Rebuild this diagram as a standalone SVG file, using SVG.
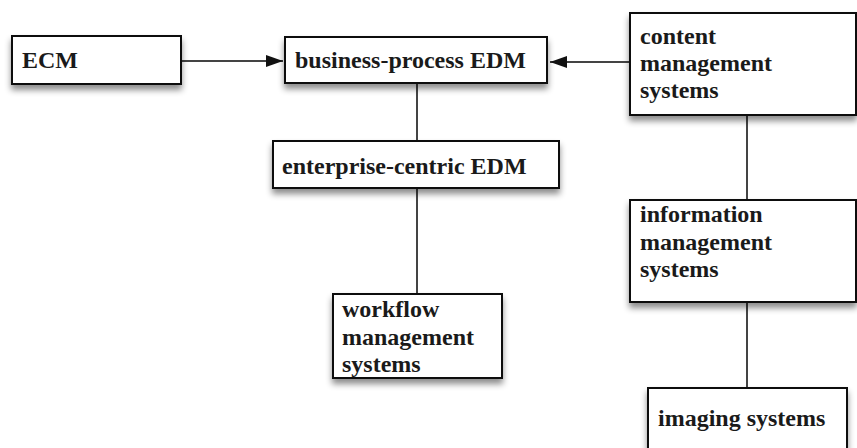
<svg xmlns="http://www.w3.org/2000/svg" width="857" height="448" viewBox="0 0 857 448">
<style>
.box{fill:#fff;stroke:#111;stroke-width:2;filter:url(#sh)}
.t{font-family:"Liberation Serif","Times New Roman",serif;font-weight:bold;font-size:24px;fill:#1a1a1a}
.c{stroke:#444;stroke-width:2;fill:none}
</style>
<defs>
<filter id="sh" x="-10%" y="-20%" width="120%" height="150%">
<feDropShadow dx="0" dy="5" stdDeviation="3" flood-color="#000" flood-opacity="0.45"/>
</filter>
<marker id="ah" viewBox="0 0 17 12" refX="17" refY="6" markerWidth="17" markerHeight="12" markerUnits="userSpaceOnUse" orient="auto">
<path d="M0,0 L17,6 L0,12 Z" fill="#111"/>
</marker>
</defs>
<g id="connectors">
<line class="c" x1="181" y1="61" x2="283" y2="61" marker-end="url(#ah)"/>
<line class="c" x1="631" y1="62" x2="550" y2="62" marker-end="url(#ah)"/>
<line class="c" x1="417" y1="83" x2="417" y2="141"/>
<line class="c" x1="417" y1="188" x2="417" y2="294"/>
<line class="c" x1="747" y1="115" x2="747" y2="200"/>
<line class="c" x1="747" y1="302" x2="747" y2="388"/>
</g>
<g id="ecm">
<rect class="box" x="12" y="36" width="169" height="48"/>
<text class="t" x="22" y="68">ECM</text>
</g>
<g id="bp-edm">
<rect class="box" x="285" y="37" width="262" height="46"/>
<text class="t" x="295" y="68">business-process EDM</text>
</g>
<g id="ec-edm">
<rect class="box" x="273" y="141" width="286" height="47"/>
<text class="t" x="282" y="174">enterprise-centric EDM</text>
</g>
<g id="wms">
<rect class="box" x="333" y="294" width="169" height="84"/>
<text class="t" x="342" y="317">workflow</text>
<text class="t" x="342" y="345">management</text>
<text class="t" x="342" y="372">systems</text>
</g>
<g id="cms">
<rect class="box" x="630" y="13" width="226" height="102"/>
<text class="t" x="640" y="44">content</text>
<text class="t" x="640" y="71">management</text>
<text class="t" x="640" y="98">systems</text>
</g>
<g id="ims">
<rect class="box" x="630" y="200" width="226" height="102"/>
<text class="t" x="640" y="222">information</text>
<text class="t" x="640" y="250">management</text>
<text class="t" x="640" y="277">systems</text>
</g>
<g id="imaging">
<rect class="box" x="648" y="388" width="199" height="80"/>
<text class="t" x="658" y="426">imaging systems</text>
</g>
</svg>
